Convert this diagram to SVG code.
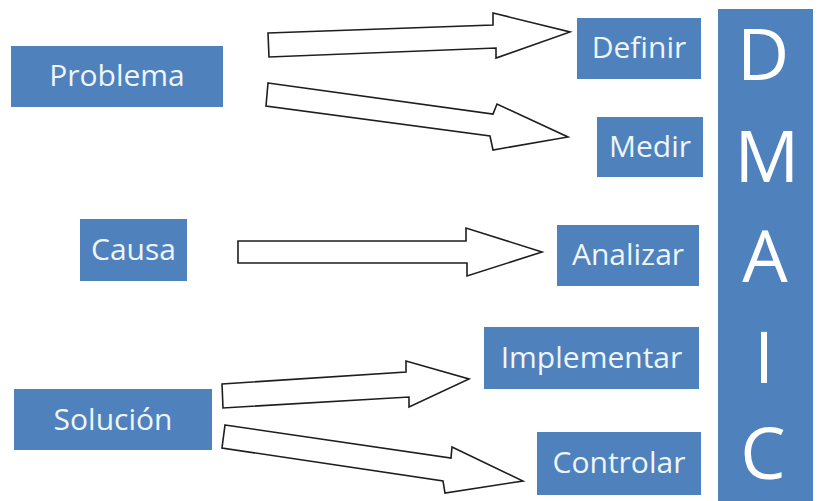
<svg xmlns="http://www.w3.org/2000/svg" width="818" height="501" viewBox="0 0 818 501">
  <style>
    .box { fill: #4F81BD; }
    .label { font-family: "Open Sans", "Liberation Sans", sans-serif; font-size: 30px; fill: #EEF5FC; text-anchor: middle; }
    .big { font-family: "Open Sans", "Liberation Sans", sans-serif; font-size: 72px; fill: #FFFFFF; text-anchor: middle; }
    .arrow { fill: #FFFFFF; stroke: #1E1E1E; stroke-width: 1.6; stroke-linejoin: miter; }
  </style>
  <rect width="818" height="501" fill="#FFFFFF"/>

  <!-- block arrows -->
  <g id="connectors">
    <polygon class="arrow" points="268,33 493,25 493,13 570,32 496,58 496,48 269,57"/>
    <polygon class="arrow" points="268,83 493,114 497,104 568,137 493,150 490,136 266,106"/>
    <polygon class="arrow" points="238,241 466,241 466,228 542,252 467,276 467,263 238,263"/>
    <polygon class="arrow" points="222,384 406,372 406,361 469,379 409,407 409,397 223,408"/>
    <polygon class="arrow" points="225,425 451,458 452,447 523,481 445,493 443,481 222,448"/>
  </g>

  <!-- left-hand nodes -->
  <g id="problema">
    <rect class="box" x="11" y="46" width="212" height="61"/>
    <text class="label" x="117" y="86">Problema</text>
  </g>
  <g id="causa">
    <rect class="box" x="80" y="219" width="107" height="62"/>
    <text class="label" x="133.5" y="260">Causa</text>
  </g>
  <g id="solucion">
    <rect class="box" x="14" y="389" width="198" height="61"/>
    <text class="label" x="113" y="430">Solución</text>
  </g>

  <!-- phase nodes -->
  <g id="definir">
    <rect class="box" x="577" y="18" width="124" height="61"/>
    <text class="label" x="639" y="58">Definir</text>
  </g>
  <g id="medir">
    <rect class="box" x="597" y="117" width="106" height="60"/>
    <text class="label" x="650" y="157">Medir</text>
  </g>
  <g id="analizar">
    <rect class="box" x="557" y="225" width="142" height="61"/>
    <text class="label" x="628" y="265">Analizar</text>
  </g>
  <g id="implementar">
    <rect class="box" x="484" y="327" width="215" height="62"/>
    <text class="label" x="591.5" y="368">Implementar</text>
  </g>
  <g id="controlar">
    <rect class="box" x="537" y="432" width="164" height="63"/>
    <text class="label" x="619" y="473">Controlar</text>
  </g>

  <!-- DMAIC column -->
  <g id="dmaic">
    <rect class="box" x="718" y="9" width="95" height="492"/>
    <text class="big" x="763" y="80">D</text>
    <text class="big" x="767" y="182">M</text>
    <text class="big" x="765" y="282">A</text>
    <text class="big" x="764" y="383">I</text>
    <text class="big" x="763" y="479">C</text>
  </g>
</svg>
